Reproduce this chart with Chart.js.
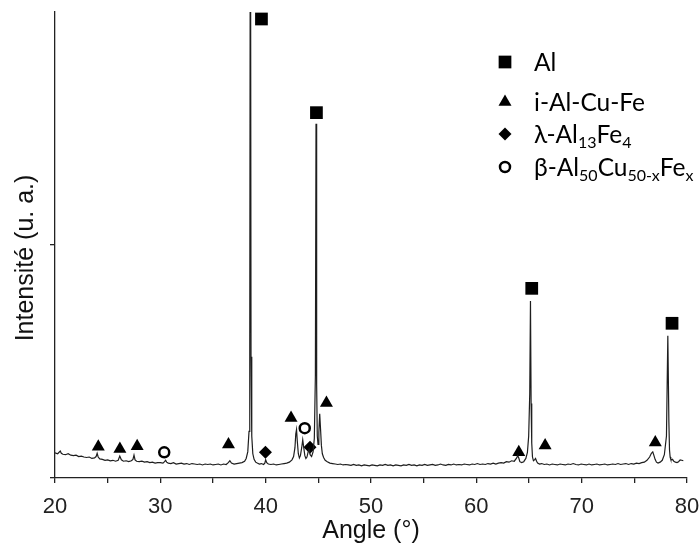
<!DOCTYPE html>
<html><head><meta charset="utf-8">
<script src="https://cdn.jsdelivr.net/npm/chart.js@4.4.1/dist/chart.umd.min.js"></script>
<style>html,body{margin:0;padding:0;background:#fff}#wrap{width:700px;height:544px;position:relative}</style>
</head><body><div id="wrap"><canvas id="c" width="700" height="544"></canvas></div>
<script>
// Diffractogram (angle 2θ in °, intensity in arbitrary units)
const angles = [
20.0,20.25,20.5,20.6,20.75,21.0,21.25,21.5,21.75,22.0,22.25,22.5,22.75,23.0,23.25,23.5,23.75,23.9,24.0,24.1,
24.25,24.5,24.75,25.0,25.25,25.5,25.75,26.0,26.15,26.3,26.5,26.75,27.0,27.25,27.4,27.5,27.6,27.75,28.0,28.25,
28.5,28.75,29.0,29.25,29.5,29.75,30.0,30.25,30.4,30.5,30.6,30.75,31.0,31.25,31.5,31.75,32.0,32.25,32.5,32.75,
33.0,33.25,33.5,33.75,34.0,34.25,34.5,34.75,35.0,35.25,35.5,35.75,36.0,36.25,36.45,36.6,36.75,37.0,37.25,37.5,
37.75,38.0,38.15,38.3,38.42,38.49,38.55,38.61,38.68,38.78,38.9,39.05,39.2,39.4,39.6,39.8,39.92,40.0,40.1,40.25,
40.5,40.75,41.0,41.25,41.5,41.75,42.0,42.25,42.5,42.65,42.78,42.86,42.93,43.0,43.1,43.2,43.3,43.42,43.52,43.6,
43.72,43.82,43.92,44.02,44.12,44.22,44.36,44.5,44.62,44.72,44.78,44.84,44.9,44.97,45.05,45.13,45.21,45.29,45.38,45.5,
45.65,45.85,46.1,46.35,46.6,46.85,47.1,47.35,47.6,47.85,48.1,48.35,48.6,48.85,49.1,49.35,49.6,49.85,50.1,50.35,
50.6,50.85,51.1,51.35,51.6,51.85,52.1,52.35,52.6,52.85,53.1,53.35,53.6,53.85,54.1,54.35,54.6,54.85,55.1,55.35,
55.6,55.85,56.1,56.35,56.6,56.85,57.1,57.35,57.6,57.85,58.1,58.35,58.6,58.85,59.1,59.35,59.6,59.85,60.1,60.35,
60.6,60.85,61.1,61.35,61.6,61.85,62.1,62.35,62.6,62.85,63.1,63.35,63.6,63.8,63.93,64.03,64.13,64.3,64.5,64.7,
64.85,64.97,65.07,65.14,65.2,65.26,65.33,65.42,65.52,65.62,65.72,65.82,66.0,66.2,66.45,66.7,66.95,67.2,67.45,67.7,
67.95,68.2,68.45,68.7,68.95,69.2,69.45,69.7,69.95,70.2,70.45,70.7,70.95,71.2,71.45,71.7,71.95,72.2,72.45,72.7,
72.95,73.2,73.45,73.7,73.95,74.2,74.45,74.7,74.95,75.2,75.45,75.7,75.95,76.2,76.45,76.62,76.75,76.85,76.97,77.1,
77.25,77.45,77.65,77.85,78.05,78.18,78.28,78.34,78.4,78.46,78.53,78.62,78.75,78.9,79.05,79.2,79.35,79.5,79.65,79.8,
79.9,80.0];
const intensities = [
5.4,5.2,5.8,5.3,5.1,5.0,5.2,4.9,4.8,4.9,4.6,4.7,4.5,4.4,4.5,4.2,4.3,4.6,5.3,4.5,
4.1,4.0,3.8,3.9,3.7,3.8,3.6,3.8,4.7,3.9,3.6,3.7,3.5,3.7,4.0,4.9,3.9,3.6,3.5,3.6,
3.4,3.5,3.3,3.4,3.2,3.3,3.3,3.2,3.5,3.8,3.4,3.2,3.1,3.3,3.0,3.1,3.2,3.0,3.1,2.9,
3.1,3.0,2.9,3.0,2.8,3.0,2.9,3.0,2.8,2.9,3.0,2.8,3.0,2.9,3.3,3.7,3.2,3.0,3.1,3.2,
3.3,3.6,4.2,5.6,10,28,150,26,9,5.2,4.0,3.4,3.2,3.0,3.1,2.9,3.2,3.9,3.3,3.0,
2.9,3.0,2.8,2.9,3.0,3.1,3.2,3.4,3.9,4.6,6.5,9.5,10.4,8.0,5.2,4.3,4.8,6.5,8.2,6.8,
4.8,4.2,4.5,5.5,6.1,5.0,4.6,5.6,8.5,22,76,20,9,7.2,9.8,13.8,10.5,7.0,5.2,4.4,
3.8,3.5,3.2,3.1,3.0,2.9,3.0,2.8,2.9,2.8,2.7,2.9,2.7,2.8,2.6,2.8,2.7,2.6,2.8,2.7,
2.6,2.8,2.7,2.9,2.7,2.8,2.6,2.8,2.7,2.6,2.8,2.7,2.9,2.7,2.8,2.6,2.8,2.7,2.9,2.7,
2.8,2.9,2.7,2.8,3.0,2.8,2.7,2.9,2.8,3.0,2.8,2.9,2.8,3.0,2.9,2.8,3.0,2.9,3.1,2.9,
3.0,2.9,3.1,3.0,3.2,3.0,3.2,3.3,3.2,3.5,3.4,3.7,3.6,4.2,4.8,4.3,3.5,3.3,3.5,4.2,
5.5,9,18,38,16,7.5,4.5,3.7,3.9,4.2,3.6,3.2,3.0,3.1,2.9,3.0,2.8,3.0,2.9,2.8,
3.0,2.9,2.8,3.0,2.9,3.1,2.9,2.8,3.0,2.9,2.8,3.0,2.8,2.9,3.0,2.8,2.9,3.0,2.8,2.9,
3.0,2.9,3.1,2.9,3.0,3.1,2.9,3.1,3.0,3.2,3.1,3.3,3.4,3.8,4.5,5.3,5.6,4.9,4.0,3.4,
3.2,3.4,3.8,5,9,30.5,12,6,4.5,4.0,3.9,4.0,3.6,3.4,3.3,3.5,3.9,3.8,
3.7];

// Phase markers
const alAngles = [39.60, 44.82, 65.26, 78.58];
const alHeights = [98.5, 78.4, 40.7, 33.2];
const iAngles = [24.11, 26.16, 27.80, 36.47, 42.41, 45.77, 64.03, 66.53, 76.99];
const iHeights = [6.7, 6.2, 6.8, 7.2, 12.9, 16.1, 5.5, 7.0, 7.6];
const lambdaAngles = [39.98, 44.21];
const lambdaHeights = [5.5, 6.6];
const betaAngles = [30.37, 43.71];
const betaHeights = [5.5, 10.7];

const xTickLabels = ['20','30','40','50','60','70','80'];
const xTitle = 'Angle (°)';
const yTitle = 'Intensité (u. a.)';
// legend entries: [text, subscript] pieces
const legendAl = [['Al','']];
const legendI = [['i-Al-Cu-Fe','']];
const legendLambda = [['λ-Al','13'],['Fe','4']];
const legendBeta = [['β-Al','50'],['Cu','50-x'],['Fe','x']];

const pts = (xs, ys) => xs.map((x, i) => ({x, y: ys[i]}));

const legendPlugin = {
  id: 'phaseLegend',
  afterDatasetsDraw(chart) {
    const ctx = chart.ctx;
    const rows = [
      {ds: 1, parts: legendAl, y: 62},
      {ds: 2, parts: legendI, y: 102},
      {ds: 3, parts: legendLambda, y: 134},
      {ds: 4, parts: legendBeta, y: 167}
    ];
    ctx.save();
    rows.forEach(r => {
      const d = chart.data.datasets[r.ds];
      ctx.fillStyle = d.pointBackgroundColor;
      ctx.strokeStyle = d.pointBorderColor;
      ctx.lineWidth = d.pointBorderWidth;
      Chart.helpers.drawPoint(ctx, {pointStyle: d.pointStyle, radius: d.pointRadius, borderWidth: d.pointBorderWidth, rotation: 0}, 505, r.y);
      let x = 534;
      const base = r.y + 8.5;
      ctx.fillStyle = '#000';
      ctx.textAlign = 'left';
      ctx.textBaseline = 'alphabetic';
      r.parts.forEach(([t, s]) => {
        ctx.font = '24.5px Lato';
        ctx.fillText(t, x, base);
        x += ctx.measureText(t).width;
        if (s) {
          ctx.font = '16px Lato';
          ctx.fillText(s, x, base + 5);
          x += ctx.measureText(s).width;
        }
      });
    });
    // y axis title
    ctx.translate(26, 258);
    ctx.rotate(-Math.PI / 2);
    ctx.font = '25px "Liberation Sans", Arial, sans-serif';
    ctx.textAlign = 'center';
    ctx.textBaseline = 'middle';
    ctx.fillStyle = '#111';
    ctx.fillText(yTitle, 0, 0);
    ctx.restore();
  }
};

new Chart(document.getElementById('c'), {
  type: 'scatter',
  data: {
    datasets: [
      {label: 'XRD', data: pts(angles, intensities), showLine: true, borderColor: '#1e1e1e', borderWidth: 1.2, pointRadius: 0, tension: 0},
      {label: 'Al', data: pts(alAngles, alHeights), pointStyle: 'rect', pointRadius: 9, pointBackgroundColor: '#000', pointBorderColor: '#000', pointBorderWidth: 0, showLine: false, clip: false},
      {label: 'i-Al-Cu-Fe', data: pts(iAngles, iHeights), pointStyle: 'triangle', pointRadius: 7.5, pointBackgroundColor: '#000', pointBorderColor: '#000', pointBorderWidth: 0, showLine: false, clip: false},
      {label: 'λ-Al13Fe4', data: pts(lambdaAngles, lambdaHeights), pointStyle: 'rectRot', pointRadius: 6.5, pointBackgroundColor: '#000', pointBorderColor: '#000', pointBorderWidth: 0, showLine: false, clip: false},
      {label: 'β-Al50Cu50-xFex', data: pts(betaAngles, betaHeights), pointStyle: 'circle', pointRadius: 5, pointBackgroundColor: '#fff', pointBorderColor: '#000', pointBorderWidth: 2.5, showLine: false, clip: false}
    ]
  },
  options: {
    responsive: false,
    animation: false,
    devicePixelRatio: 1,
    layout: {padding: {top: 12, right: 13, left: 0, bottom: 0}},
    plugins: {legend: {display: false}, tooltip: {enabled: false}},
    elements: {point: {hoverRadius: 0}},
    scales: {
      x: {
        type: 'linear', min: 20, max: 80,
        afterFit: s => { s.height = 66; s.paddingRight = 0; s.paddingLeft = 0; },
        border: {display: true, color: '#222', width: 1.3},
        grid: {drawOnChartArea: false, drawTicks: true, tickLength: 5, color: '#222', lineWidth: 1.3},
        ticks: {stepSize: 5, padding: 11, color: '#222', font: {family: '"Liberation Sans", Arial, sans-serif', size: 22},
          autoSkip: false, maxRotation: 0,
          callback: v => { const s = String(v); return xTickLabels.includes(s) ? s : ''; }},
        title: {display: true, text: xTitle, color: '#111', font: {family: '"Liberation Sans", Arial, sans-serif', size: 25, lineHeight: 1.0}, padding: {top: 0, bottom: 0}}
      },
      y: {
        type: 'linear', min: 0, max: 100,
        afterFit: s => { s.width = 55; s.paddingTop = 0; s.paddingBottom = 0; },
        border: {display: true, color: '#222', width: 1.3},
        grid: {drawOnChartArea: false, drawTicks: true, tickLength: 5, color: '#222', lineWidth: 1.3},
        ticks: {stepSize: 50, display: false, callback: v => (v === 100 ? null : '')}
      }
    }
  },
  plugins: [legendPlugin]
});
</script>
</body></html>
